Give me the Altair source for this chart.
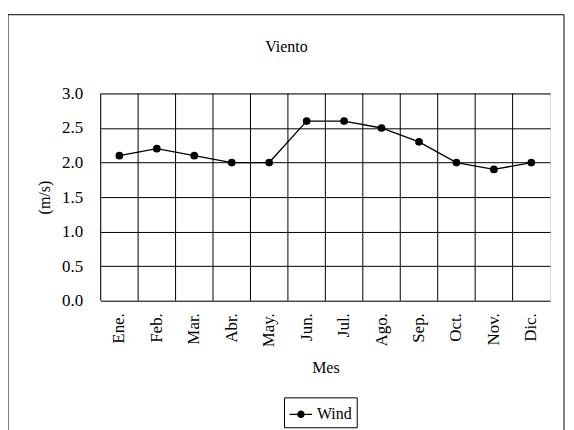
import altair as alt
import pandas as pd

months = ["Ene.", "Feb.", "Mar.", "Abr.", "May.", "Jun.", "Jul.", "Ago.", "Sep.", "Oct.", "Nov.", "Dic."]
wind = [2.1, 2.2, 2.1, 2.0, 2.0, 2.6, 2.6, 2.5, 2.3, 2.0, 1.9, 2.0]
series = ["Wind"] * len(months)
y_ticks = [0.0, 0.5, 1.0, 1.5, 2.0, 2.5, 3.0]

df = pd.DataFrame({"Mes": months, "v": wind, "s": series})

FONT = "Liberation Serif"
W, H = 451, 208
LS = 17
TS = 16

xscale = alt.Scale(type="band", domain=months, paddingInner=0, paddingOuter=0)
yscale = alt.Scale(domain=[0, 3])

xaxis = alt.Axis(labelAngle=-90, labelPadding=12, ticks=False, domain=False,
                 grid=False, labelFont=FONT, labelFontSize=LS, labelColor="black",
                 titleFont=FONT, titleFontSize=TS, titleFontWeight="normal",
                 titleColor="black", titlePadding=13)

base = alt.Chart(df)

vgrid = base.mark_rule(color="black", strokeWidth=1).encode(
    x=alt.X("Mes:N", scale=xscale, bandPosition=0, axis=xaxis, sort=months, title="Mes"),
    y=alt.value(0),
    y2=alt.value(H),
)

line = base.mark_line(
    color="black", strokeWidth=1.3,
    point=alt.OverlayMarkDef(filled=True, color="black", size=60),
).encode(
    x=alt.X("Mes:N", scale=xscale, sort=months, title="Mes", axis=xaxis),
    y=alt.Y("v:Q", scale=yscale, title="(m/s)",
            axis=alt.Axis(values=y_ticks, format=".1f", ticks=False, domain=False,
                          grid=True, gridColor="black", gridOpacity=1, gridWidth=1,
                          labelFont=FONT, labelFontSize=LS, labelColor="black", labelPadding=18,
                          titleFont=FONT, titleFontSize=TS, titleFontWeight="normal",
                          titleColor="black", titlePadding=9)),
    color=alt.Color("s:N", scale=alt.Scale(range=["black"]), title=None,
                    legend=alt.Legend(orient="none", legendX=184, legendY=305,
                                      strokeColor="black", padding=5, fillColor="white",
                                      labelFont=FONT, labelFontSize=TS, labelColor="black",
                                      symbolType="M-1,0L1,0M-0.28,0A0.28,0.28,0,1,1,0.28,0A0.28,0.28,0,1,1,-0.28,0",
                                      symbolSize=500, symbolFillColor="black",
                                      symbolStrokeColor="black", symbolStrokeWidth=1.3)),
)

border = alt.Chart(pd.DataFrame({"a": [0]})).mark_rect(
    fill="transparent", stroke="black", strokeWidth=1
).encode(
    x=alt.value(-93), x2=alt.value(465), y=alt.value(-79), y2=alt.value(345)
)

chart = alt.layer(vgrid, line, border).properties(
    width=W, height=H,
    title=alt.TitleParams("Viento", font=FONT, fontSize=TS, fontWeight="normal",
                          color="black", anchor="middle", frame="group", offset=0, dx=-39, dy=41),
    autosize=alt.AutoSizeParams(type="none"),
    padding={"left": 93, "top": 85, "right": 16, "bottom": 130},
).configure_view(stroke="black", strokeWidth=1).configure(background="white")

chart.save("out.html", embed_options={"renderer": "svg", "actions": False})
